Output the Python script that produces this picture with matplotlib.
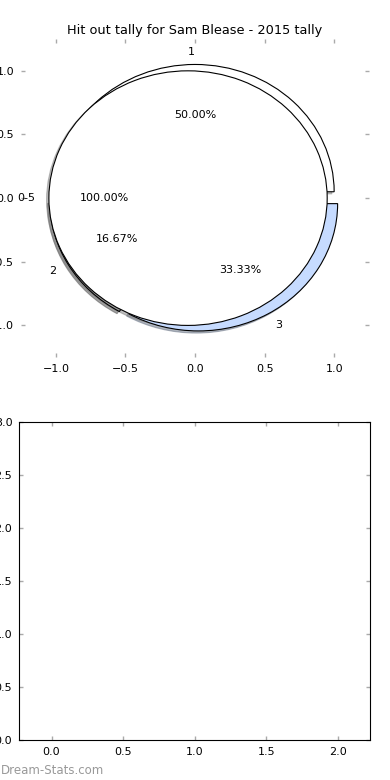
import matplotlib
matplotlib.use('Agg')
import matplotlib.pyplot as plt

# tally of hit outs, split by count
labels = ['1', '2', '3']
counts = [3, 1, 2]
colors = ['white', '#999999', '#c6dbff']

# the overall range slice
total_labels = ['0-5']
total_counts = [6]

player = 'Sam Blease'
season = '2015'

fig = plt.figure(figsize=(3.9, 7.8), dpi=100)
ax1 = fig.add_axes([0.054, 0.542, 0.892, 0.408])
ax2 = fig.add_axes([0.0495, 0.0513, 0.9, 0.4081])

fs = 8
shad = {'ox': -0.012, 'oy': -0.012, 'shade': 0.5}

ax1.pie(counts, labels=labels, colors=colors, explode=[0.05] * len(counts),
        autopct='%.2f%%', shadow=shad, startangle=0,
        wedgeprops={'edgecolor': 'black', 'linewidth': 0.8},
        textprops={'fontsize': fs}, frame=True)
ax1.pie(total_counts, labels=total_labels, colors=['white'], explode=[0.05],
        autopct='%.2f%%', shadow=shad, startangle=0,
        wedgeprops={'edgecolor': 'black', 'linewidth': 0.8},
        textprops={'fontsize': fs}, frame=True)
ax1.set_aspect('auto')
ax1.set_xlim(-1.25, 1.25)
ax1.set_ylim(-1.25, 1.25)
ax1.set_xticks([-1.0, -0.5, 0.0, 0.5, 1.0])
ax1.set_yticks([-1.0, -0.5, 0.0, 0.5, 1.0])
for s in ax1.spines.values():
    s.set_visible(False)
ax1.set_title('Hit out tally for ' + player + ' - ' + season + ' tally',
              fontsize=9.3, pad=3.5)

ax2.set_xlim(-0.225, 2.225)
ax2.set_ylim(0, 3)
ax2.set_xticks([0.0, 0.5, 1.0, 1.5, 2.0])
ax2.set_yticks([0.0, 0.5, 1.0, 1.5, 2.0, 2.5, 3.0])

for ax in (ax1, ax2):
    ax.tick_params(direction='in', color='#aaaaaa', length=3, width=1,
                   top=True, right=True, labelsize=fs, pad=5)

fig.text(0.002, 0.0128, 'Dream-Stats.com', color='#999999', fontsize=8.5,
         va='center', ha='left')

fig.savefig('out.png')
